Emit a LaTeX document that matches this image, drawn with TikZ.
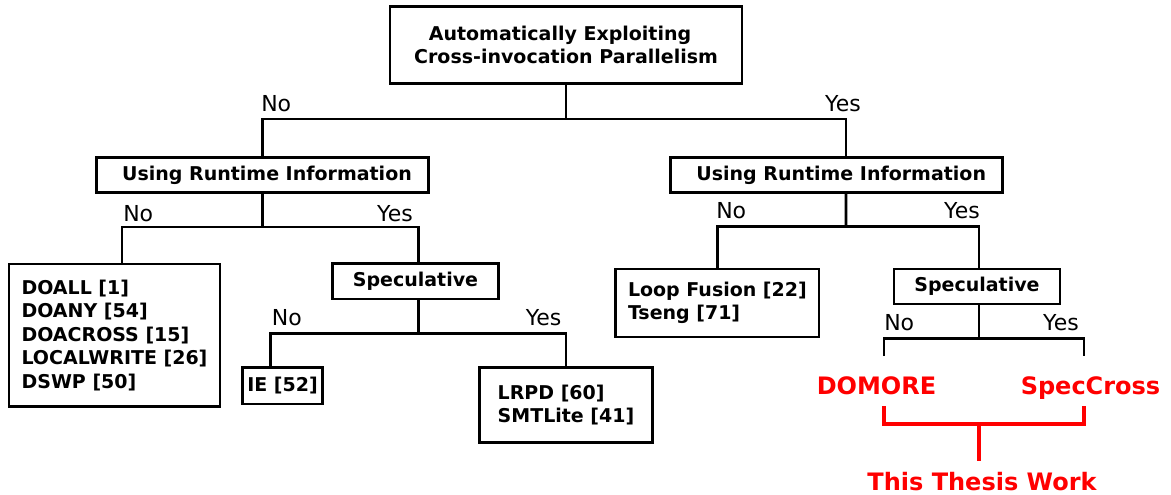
\documentclass[tikz,border=0pt]{standalone}
\usepackage{fontspec}
\setmainfont{DejaVu Sans}
\newcommand\boxfont{\fontsize{14.25pt}{17.6pt}\selectfont\bfseries}
\newcommand\lblfont{\fontsize{16.5pt}{19pt}\selectfont}
\newcommand\workfont{\fontsize{18pt}{21pt}\selectfont\bfseries}
\begin{document}
\begin{tikzpicture}[x=0.75pt,y=-0.75pt,
  conn/.style={line width=2pt},
  redconn/.style={line width=2.3pt,red},
  box/.style={draw,line width=2pt,inner sep=0pt,font=\boxfont},
  lbl/.style={inner sep=0pt,font=\lblfont},
  work/.style={inner sep=0pt,font=\workfont,text=red}]
\useasboundingbox (0,0) rectangle (1171,494);

% decision and result boxes
\node[box,align=center,minimum width=264pt,minimum height=57.75pt] (root) at (566,45)
  {Automatically Exploiting\hbox to 9pt{}\\Cross-invocation Parallelism};
\node[box,align=center,minimum width=249pt,minimum height=26.25pt] (uriL) at (262.5,175)
  {\hbox to 6.75pt{}Using Runtime Information};
\node[box,align=center,minimum width=249pt,minimum height=26.25pt] (uriR) at (836.7,175)
  {\hbox to 6.75pt{}Using Runtime Information};
\node[box,align=left,minimum width=158.25pt,minimum height=107pt] (doall) at (114.5,335.3)
  {DOALL [1]\\DOANY [54]\\DOACROSS [15]\\LOCALWRITE [26]\\DSWP [50]};
\node[box,align=center,minimum width=124.8pt,minimum height=26.8pt] (specL) at (415.5,281.2)
  {Speculative};
\node[box,align=center,minimum width=59.7pt,minimum height=27.2pt] (ie) at (282.5,385.9)
  {IE [52]};
\node[box,align=left,minimum width=130pt,minimum height=56pt] (lrpd) at (566,405)
  {LRPD [60]\\SMTLite [41]};
\node[box,align=left,minimum width=152.5pt,minimum height=51pt] (loop) at (717.4,303)
  {Loop Fusion [22]\\Tseng [71]};
\node[box,align=center,minimum width=124.5pt,minimum height=26.25pt] (specR) at (977,286.5)
  {Speculative};

% branch labels
\node[lbl,anchor=base west] (no0) at (261,111) {No};
\node[lbl,anchor=base east] (yes0) at (861,111) {Yes};
\node[lbl,anchor=base west] (no1) at (123,221) {No};
\node[lbl,anchor=base east] (yes1) at (413,221) {Yes};
\node[lbl,anchor=base west] (no2) at (716,218) {No};
\node[lbl,anchor=base east] (yes2) at (980,218) {Yes};
\node[lbl,anchor=base west] (no3) at (271.7,325) {No};
\node[lbl,anchor=base east] (yes3) at (561.7,325) {Yes};
\node[lbl,anchor=base west] (no4) at (884,330) {No};
\node[lbl,anchor=base east] (yes4) at (1079,330) {Yes};

% highlighted leaves
\node[work,anchor=base] (domore) at (876.5,394) {DOMORE};
\node[work,anchor=base] (speccross) at (1090.5,394) {SpecCross};
\node[work,anchor=base,inner ysep=8.1pt] (thesis) at (982,490) {This Thesis Work};

% tree connectors
\coordinate (j0) at (566,119);
\draw[conn] (root.south) -- (j0);
\draw[conn] (uriL.north) |- (j0) -| ([xshift=7pt]uriR.north);

\coordinate (j1) at (262.5,227);
\draw[conn] (uriL.south) -- (j1);
\draw[conn] ([xshift=5.6pt]doall.north) |- (j1) -| ([xshift=2.25pt]specL.north);

\coordinate (j3) at (418.5,333.5);
\draw[conn] ([xshift=2.25pt]specL.south) -- (j3);
\draw[conn] ([xshift=-8.85pt]ie.north) |- (j3) -| (lrpd.north);

\coordinate (j2) at (846,226.5);
\draw[conn] ([xshift=7pt]uriR.south) -- (j2);
\draw[conn] (loop.north) |- (j2) -| ([xshift=1.5pt]specR.north);

\coordinate (j4) at (979,338.5);
\coordinate (eL) at (884,356);
\coordinate (eR) at (1084,356);
\draw[conn] ([xshift=1.5pt]specR.south) -- (j4);
\draw[conn] (eL) |- (j4) -| (eR);

% bracket joining the two new techniques
\coordinate (bj) at (979,424);
\draw[redconn] ([xshift=5.6pt,yshift=-9pt]domore.base) |- (bj) -| ([xshift=-4.9pt,yshift=-9pt]speccross.base);
\draw[redconn] (bj) -- (bj |- thesis.north);
\end{tikzpicture}
\end{document}
